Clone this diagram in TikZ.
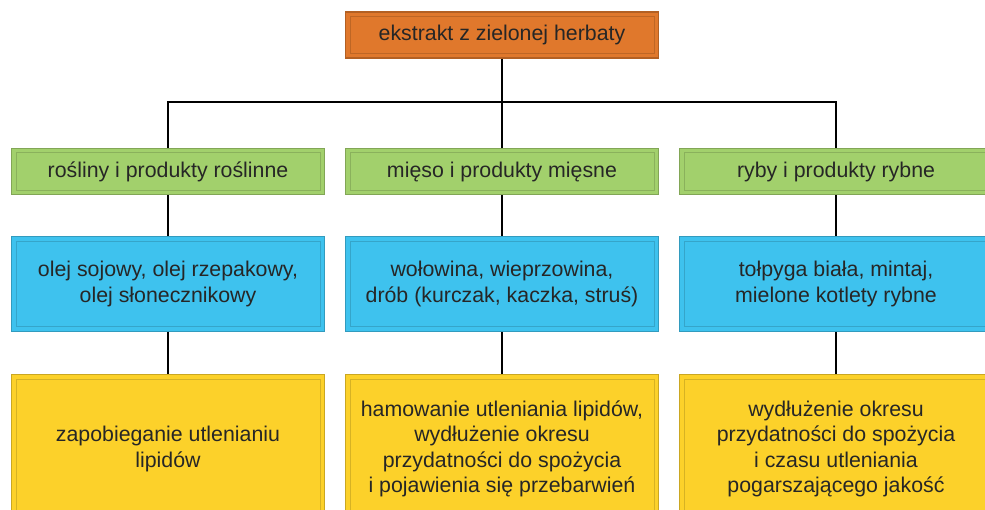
\documentclass[tikz,border=0pt]{standalone}
\usepackage{fontspec}
\setmainfont{Liberation Sans}
\definecolor{boxorange}{HTML}{E0782C}
\definecolor{boxgreen}{HTML}{A2D06C}
\definecolor{boxblue}{HTML}{3EC2EE}
\definecolor{boxyellow}{HTML}{FCD12A}
\definecolor{txtgray}{HTML}{262626}
\tikzset{
  panel/.style={draw=#1!80!black, line width=0.9pt, fill=#1, text=txtgray,
    align=center, inner sep=0pt, minimum width=235pt,
    font=\fontsize{16}{19}\selectfont,
    path picture={\draw[#1!85!black, line width=0.6pt]
      ([shift={(3.5pt,-3.5pt)}]path picture bounding box.north west) rectangle
      ([shift={(-3.5pt,3.5pt)}]path picture bounding box.south east);}},
  link/.style={draw=black, line width=1.4pt}
}
\begin{document}
\begin{tikzpicture}[x=0.75pt, y=-0.75pt]
\useasboundingbox (0,0) rectangle (985,510);
\clip (0,0) rectangle (985,510);
% top
\node[panel=boxorange, minimum height=34.5pt] (extract) at (502,35) {ekstrakt z zielonej herbaty};
\coordinate (bus) at (502,102);
% groups
\node[panel=boxgreen, minimum height=35pt] (plants) at (168,171.5) {rośliny i produkty roślinne};
\node[panel=boxgreen, minimum height=35pt] (meat) at (502,171.5) {mięso i produkty mięsne};
\node[panel=boxgreen, minimum height=35pt] (fish) at (836,171.5) {ryby i produkty rybne};
% examples
\node[panel=boxblue, minimum height=71pt] (oils) at (168,284) {olej sojowy, olej rzepakowy,\\olej słonecznikowy};
\node[panel=boxblue, minimum height=71pt] (meats) at (502,284) {wołowina, wieprzowina,\\drób (kurczak, kaczka, struś)};
\node[panel=boxblue, minimum height=71pt] (fishes) at (836,284) {tołpyga biała, mintaj,\\mielone kotlety rybne};
% effects
\node[panel=boxyellow, minimum height=112pt] (effplants) at (168,449) {zapobieganie utlenianiu\\lipidów};
\node[panel=boxyellow, minimum height=112pt] (effmeat) at (502,449) {hamowanie utleniania lipidów,\\wydłużenie okresu\\przydatności do spożycia\\i pojawienia się przebarwień};
\node[panel=boxyellow, minimum height=112pt] (efffish) at (836,449) {wydłużenie okresu\\przydatności do spożycia\\i czasu utleniania\\pogarszającego jakość};
% connectors
\draw[link] (extract) -- (bus);
\draw[link] (bus) -| (plants);
\draw[link] (bus) -| (fish);
\draw[link] (bus) -- (meat);
\draw[link] (plants) -- (oils);
\draw[link] (meat) -- (meats);
\draw[link] (fish) -- (fishes);
\draw[link] (oils) -- (effplants);
\draw[link] (meats) -- (effmeat);
\draw[link] (fishes) -- (efffish);
\end{tikzpicture}
\end{document}
